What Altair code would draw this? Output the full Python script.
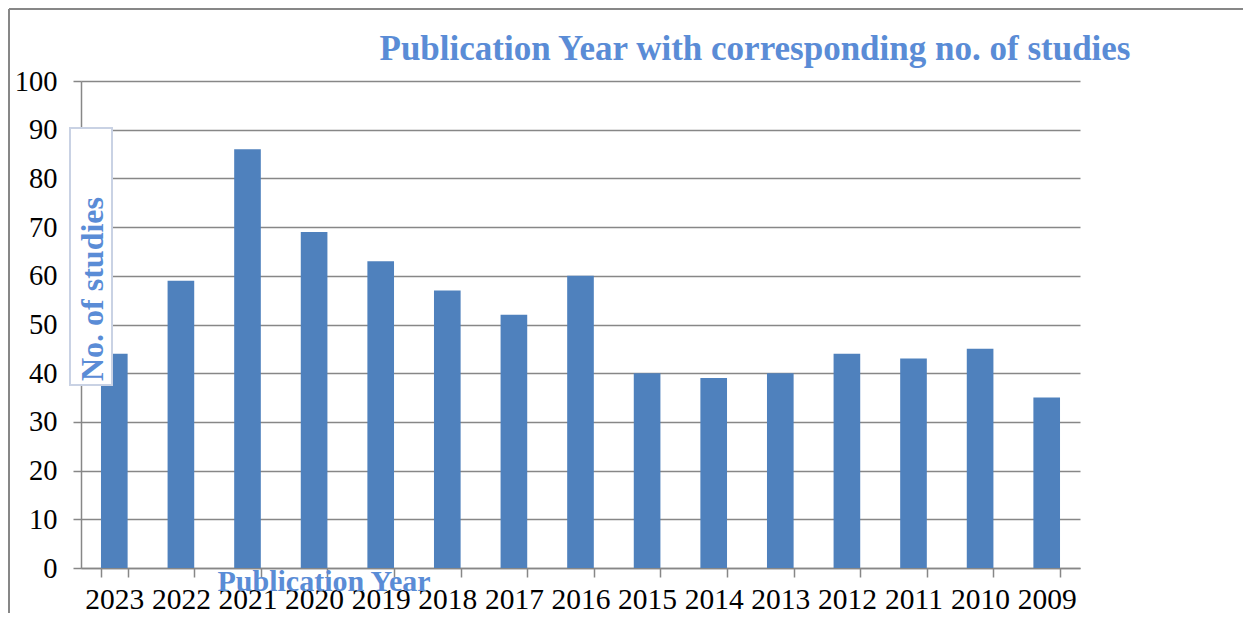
import altair as alt
import pandas as pd

years = ["2023", "2022", "2021", "2020", "2019", "2018", "2017", "2016",
         "2015", "2014", "2013", "2012", "2011", "2010", "2009"]
counts = [44, 59, 86, 69, 63, 57, 52, 60, 40, 39, 40, 44, 43, 45, 35]
y_ticks = list(range(0, 101, 10))

chart_title = "Publication Year with corresponding no. of studies"
x_title = "Publication Year"
y_title = "No. of studies"

df = pd.DataFrame({"year": years, "count": counts})
one = pd.DataFrame({"k": [0]})

GRAY = "#878787"
BLUE_T = "#5A8CD6"
SERIF = "Liberation Serif"

bars = alt.Chart(df).mark_bar(color="#4F81BD").encode(
    x=alt.X("year:N", sort=None, title=None,
            scale=alt.Scale(paddingInner=0.6, paddingOuter=0.3),
            axis=alt.Axis(labelAngle=0, labelFont=SERIF, labelFontSize=29.5,
                          labelColor="black", tickBand="extent", tickSize=9,
                          tickColor=GRAY, tickWidth=1.5, domainColor=GRAY,
                          domainWidth=1.5, labelPadding=8, grid=False)),
    y=alt.Y("count:Q", title=None, scale=alt.Scale(domain=[0, 100], nice=False),
            axis=alt.Axis(values=y_ticks, labelFont=SERIF, labelFontSize=28.5,
                          labelColor="black", tickSize=8, tickColor=GRAY,
                          tickWidth=1.5, domainColor=GRAY, domainWidth=1.5,
                          gridColor=GRAY, gridWidth=1.5, labelPadding=16)),
)

box = alt.Chart(one).mark_rect(fill="white", stroke="#C9D2E4", strokeWidth=2).encode(
    x=alt.value(-11), x2=alt.value(31), y=alt.value(47), y2=alt.value(304))

ytxt = alt.Chart(one).mark_text(
    text=y_title, angle=270, font=SERIF, fontSize=32, fontWeight="bold",
    color=BLUE_T, align="left", baseline="middle").encode(
    x=alt.value(12), y=alt.value(300))

xtxt = alt.Chart(one).mark_text(
    text=x_title, font=SERIF, fontSize=30, fontWeight="bold",
    color=BLUE_T, align="center", baseline="alphabetic").encode(
    x=alt.value(243), y=alt.value(510))

ttxt = alt.Chart(one).mark_text(
    text=chart_title, font=SERIF, fontSize=35, fontWeight="bold",
    color=BLUE_T, align="center", baseline="alphabetic").encode(
    x=alt.value(674), y=alt.value(-21))

frame_left = alt.Chart(one).mark_rule(color=GRAY, strokeWidth=2).encode(
    x=alt.value(-72), y=alt.value(-72), y2=alt.value(545))
frame_top = alt.Chart(one).mark_rule(color=GRAY, strokeWidth=2).encode(
    x=alt.value(-72), x2=alt.value(1170), y=alt.value(-72))

chart = alt.layer(bars, box, ytxt, xtxt, ttxt, frame_left, frame_top).properties(
    width=999, height=487,
    padding={"left": 73, "top": 73, "right": 163, "bottom": 45},
    autosize=alt.AutoSizeParams(type="none"),
).configure_view(stroke=None)

chart.save("out.html", embed_options={"renderer": "svg", "actions": False})
